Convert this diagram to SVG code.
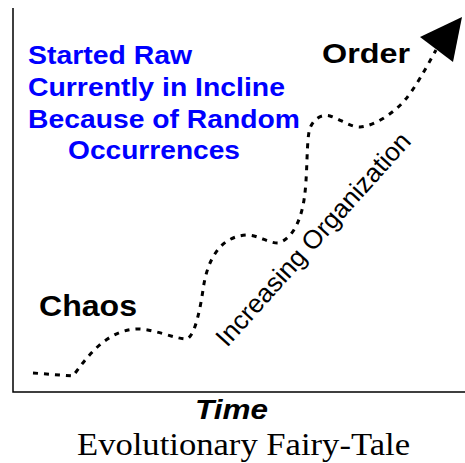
<svg xmlns="http://www.w3.org/2000/svg" width="465" height="463" viewBox="0 0 465 463">
<style>
.sans{font-family:"Liberation Sans",Arial,sans-serif;}
.bold{font-weight:bold;}
.blue{fill:#0000ff;}
.blk{fill:#000;}
.curve{fill:none;stroke:#000;stroke-width:3;stroke-dasharray:5 6;}
.axis{fill:none;stroke:#000;stroke-width:1.5;}
</style>
<rect width="465" height="463" fill="#fff"/>
<g id="axes">
<path class="axis" d="M13,8 L13,392 L465,392"/>
</g>
<g id="connectors">
<path class="curve" d="M33,373 L73,376 C85,360 105,330 137,329 C155,329 175,339 187,339 C195,335 200,310 203,290 C207,260 220,236 247,235 C258,235 268,243 278,243 C290,240 300,225 304,200 C308,175 306,140 310,128 C314,118 322,114 330,116 C340,119 350,127 360,127 C375,126 395,112 405,100 C415,88 425,70 436,50"/>
<polygon points="420,37 462,17 453,62" fill="#000"/>
</g>
<g id="note">
<text class="sans bold blue" font-size="26" x="28" y="64" textLength="164" lengthAdjust="spacingAndGlyphs">Started Raw</text>
<text class="sans bold blue" font-size="26" x="28" y="96" textLength="257" lengthAdjust="spacingAndGlyphs">Currently in Incline</text>
<text class="sans bold blue" font-size="26" x="28" y="128" textLength="272" lengthAdjust="spacingAndGlyphs">Because of Random</text>
<text class="sans bold blue" font-size="26" x="68" y="159" textLength="172" lengthAdjust="spacingAndGlyphs">Occurrences</text>
</g>
<g id="order">
<text class="sans bold blk" font-size="28" x="322" y="63" textLength="88" lengthAdjust="spacingAndGlyphs">Order</text>
</g>
<g id="chaos">
<text class="sans bold blk" font-size="29" x="39" y="316" textLength="98" lengthAdjust="spacingAndGlyphs">Chaos</text>
</g>
<g id="trend-label">
<text class="sans blk" font-size="26" transform="translate(227,348) rotate(-48)" x="0" y="0" textLength="277" lengthAdjust="spacingAndGlyphs">Increasing Organization</text>
</g>
<g id="time-label">
<text class="sans bold blk" font-size="27" font-style="italic" x="195" y="419" textLength="73" lengthAdjust="spacingAndGlyphs">Time</text>
</g>
<g id="title">
<text font-family="'Liberation Serif','Times New Roman',serif" font-size="32" fill="#000" x="77" y="455" textLength="333" lengthAdjust="spacingAndGlyphs">Evolutionary Fairy-Tale</text>
</g>
</svg>
